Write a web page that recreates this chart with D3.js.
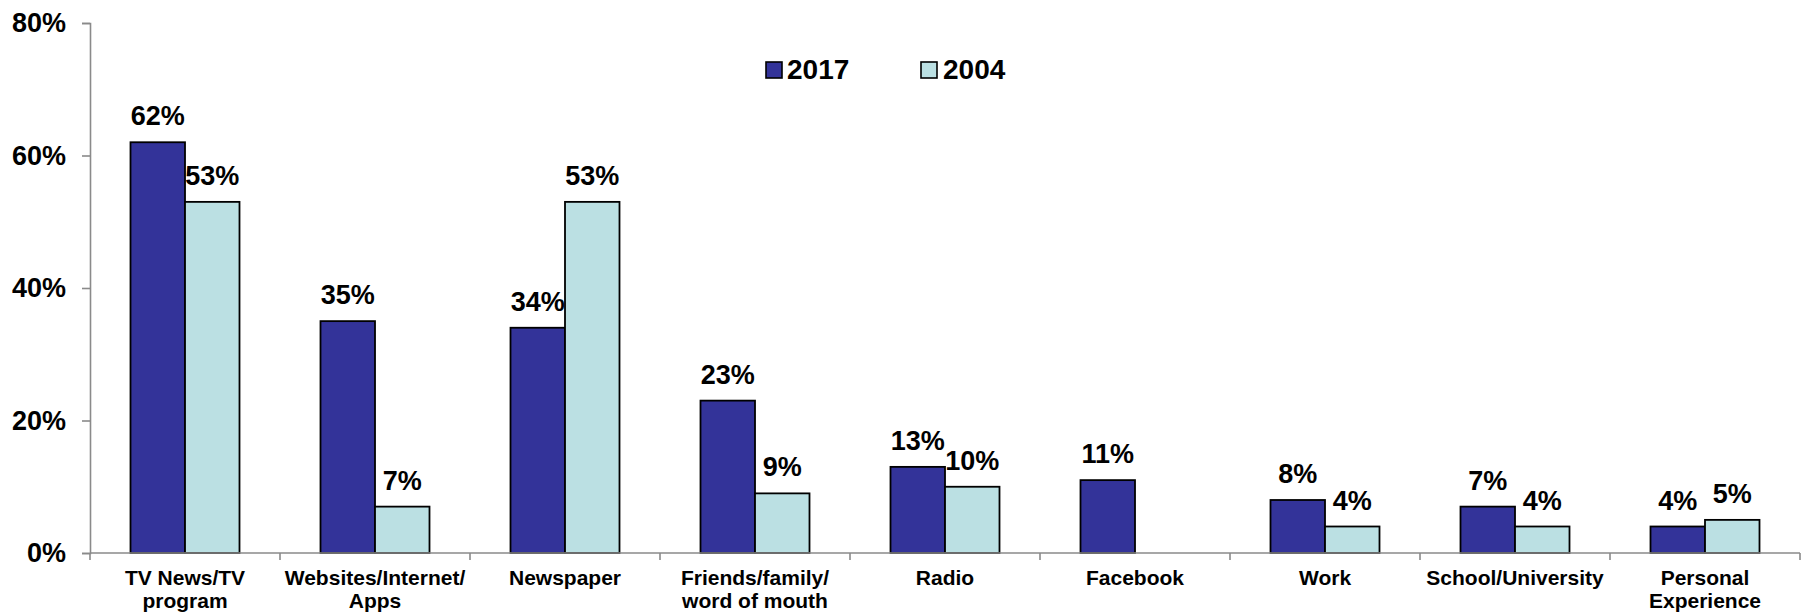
<!DOCTYPE html>
<html>
<head>
<meta charset="utf-8">
<script src="https://cdn.jsdelivr.net/npm/d3@7"></script>
<style>
  html, body { margin: 0; padding: 0; background: #fff; }
  svg text { font-family: "Liberation Sans", Arial, Helvetica, sans-serif; font-weight: bold; fill: #000; }
</style>
</head>
<body>
<svg id="chart" width="1801" height="613"></svg>
<script>
// Sources of news, share of respondents
const categories = [
  ["TV News/TV", "program"],
  ["Websites/Internet/", "Apps"],
  ["Newspaper"],
  ["Friends/family/", "word of mouth"],
  ["Radio"],
  ["Facebook"],
  ["Work"],
  ["School/University"],
  ["Personal", "Experience"]
];
const seriesNames = ["2017", "2004"];
const values2017 = [62, 35, 34, 23, 13, 11, 8, 7, 4];
const values2004 = [53, 7, 53, 9, 10, null, 4, 4, 5];
const yTicks = [0, 20, 40, 60, 80];

const colors = { "2017": "#333399", "2004": "#BBE0E3" };

const svg = d3.select("#chart");
const plot = { left: 90, right: 1800, top: 23, bottom: 553 };

const catKeys = categories.map(c => c.join(" "));
const x0 = d3.scaleBand().domain(catKeys).range([plot.left, plot.right]).padding(0);
const groupW = 109;
const x1 = d3.scaleBand().domain(seriesNames)
  .range([(x0.bandwidth() - groupW) / 2, (x0.bandwidth() + groupW) / 2]).padding(0);
const y = d3.scaleLinear().domain([0, 80]).range([plot.bottom, plot.top]);

const rows = catKeys.map((k, i) => ({
  key: k,
  vals: [
    { s: "2017", v: values2017[i] },
    { s: "2004", v: values2004[i] }
  ].filter(d => d.v !== null)
}));

// bars
const groups = svg.append("g").selectAll("g").data(rows).join("g")
  .attr("transform", d => `translate(${x0(d.key)},0)`);

groups.selectAll("rect").data(d => d.vals).join("rect")
  .attr("x", d => x1(d.s))
  .attr("y", d => y(d.v))
  .attr("width", x1.bandwidth())
  .attr("height", d => y(0) - y(d.v))
  .attr("fill", d => colors[d.s])
  .attr("stroke", "#000")
  .attr("stroke-width", 1.8);

// value labels
groups.selectAll("text.val").data(d => d.vals).join("text")
  .attr("class", "val")
  .attr("x", d => x1(d.s) + x1.bandwidth() / 2)
  .attr("y", d => y(d.v) - 17)
  .attr("text-anchor", "middle")
  .style("font-size", "27px")
  .text(d => d.v + "%");

// y axis
const yAxis = svg.append("g")
  .attr("transform", `translate(${plot.left},0)`)
  .call(d3.axisLeft(y).tickValues(yTicks).tickFormat(d => d + "%").tickSize(8).tickPadding(16));
yAxis.select(".domain").attr("stroke", "#8a8a8a").attr("stroke-width", 1.6);
yAxis.selectAll(".tick line").attr("stroke", "#8a8a8a").attr("stroke-width", 1.6);
yAxis.selectAll(".tick text")
  .style("font-size", "27px")
  .style("font-family", "'Liberation Sans', Arial, sans-serif")
  .style("font-weight", "bold")
  .attr("fill", "#000");

// x axis
const xAxis = svg.append("g")
  .attr("transform", `translate(0,${plot.bottom})`);
xAxis.append("line")
  .attr("x1", plot.left).attr("x2", plot.right)
  .attr("y1", 0).attr("y2", 0)
  .attr("stroke", "#8a8a8a").attr("stroke-width", 1.6);
const boundaries = catKeys.map(k => x0(k)).concat([plot.right]);
xAxis.selectAll("line.tk").data(boundaries).join("line")
  .attr("class", "tk")
  .attr("x1", d => d).attr("x2", d => d)
  .attr("y1", 0).attr("y2", 7)
  .attr("stroke", "#8a8a8a").attr("stroke-width", 1.6);

const catLabels = svg.append("g").selectAll("text").data(categories).join("text")
  .attr("x", (d, i) => x0(catKeys[i]) + x0.bandwidth() / 2)
  .attr("y", 585)
  .attr("text-anchor", "middle")
  .style("font-size", "21px");
catLabels.selectAll("tspan").data(d => d).join("tspan")
  .attr("x", function () { return this.parentNode.getAttribute("x"); })
  .attr("dy", (d, i) => i === 0 ? 0 : 23)
  .text(d => d);

// legend
const legendPos = [{ s: "2017", bx: 766, tx: 787 }, { s: "2004", bx: 921, tx: 943 }];
const legend = svg.append("g").selectAll("g").data(legendPos).join("g");
legend.append("rect")
  .attr("x", d => d.bx).attr("y", 62)
  .attr("width", 16).attr("height", 16)
  .attr("fill", d => colors[d.s])
  .attr("stroke", "#000").attr("stroke-width", 1.6);
legend.append("text")
  .attr("x", d => d.tx).attr("y", 79)
  .style("font-size", "28px")
  .text(d => d.s);
</script>
</body>
</html>
